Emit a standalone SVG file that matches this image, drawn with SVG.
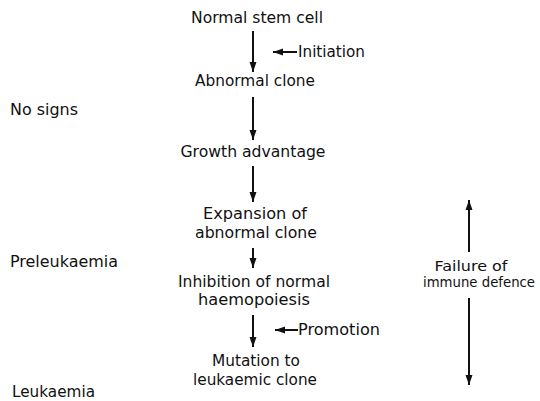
<svg xmlns="http://www.w3.org/2000/svg" width="540" height="401" viewBox="0 0 540 401">
<style>
text{font-family:"DejaVu Sans","Liberation Sans",sans-serif;font-size:15px;fill:#111;}
.c{text-anchor:middle;}
.s{font-size:14px;}
.ln{stroke:#111;stroke-width:2;fill:none;}
</style>
<defs>
<marker id="ah" viewBox="0 0 10 10" refX="10" refY="5" markerWidth="5" markerHeight="5" markerUnits="strokeWidth" orient="auto">
<path d="M0,1.5 L10,5 L0,8.5 z" fill="#111"/>
</marker>
</defs>
<rect width="540" height="401" fill="#fff"/>
<g id="connectors">
<line class="ln" x1="253" y1="31" x2="253" y2="72" marker-end="url(#ah)"/>
<line class="ln" x1="297" y1="52" x2="273" y2="52" marker-end="url(#ah)"/>
<line class="ln" x1="253" y1="97" x2="253" y2="140" marker-end="url(#ah)"/>
<line class="ln" x1="253" y1="166" x2="253" y2="202" marker-end="url(#ah)"/>
<line class="ln" x1="253" y1="248" x2="253" y2="268" marker-end="url(#ah)"/>
<line class="ln" x1="253" y1="315" x2="253" y2="347" marker-end="url(#ah)"/>
<line class="ln" x1="298" y1="330" x2="275" y2="330" marker-end="url(#ah)"/>
<line class="ln" x1="469" y1="252" x2="469" y2="200" marker-end="url(#ah)"/>
<line class="ln" x1="469" y1="298" x2="469" y2="385" marker-end="url(#ah)"/>
</g>
<g id="n1"><text class="c" x="257" y="23" textLength="132" lengthAdjust="spacingAndGlyphs">Normal stem cell</text></g>
<g id="initiation"><text x="298" y="57" textLength="67" lengthAdjust="spacingAndGlyphs">Initiation</text></g>
<g id="n2"><text class="c" x="255" y="86" textLength="120" lengthAdjust="spacingAndGlyphs">Abnormal clone</text></g>
<g id="n3"><text class="c" x="253" y="157" textLength="145" lengthAdjust="spacingAndGlyphs">Growth advantage</text></g>
<g id="n4"><text class="c" x="255" y="219" textLength="104" lengthAdjust="spacingAndGlyphs">Expansion of</text><text class="c" x="256" y="238" textLength="122" lengthAdjust="spacingAndGlyphs">abnormal clone</text></g>
<g id="n5"><text class="c" x="254" y="287" textLength="152" lengthAdjust="spacingAndGlyphs">Inhibition of normal</text><text class="c" x="254" y="305" textLength="112" lengthAdjust="spacingAndGlyphs">haemopoiesis</text></g>
<g id="promotion"><text x="298" y="335" textLength="82" lengthAdjust="spacingAndGlyphs">Promotion</text></g>
<g id="n6"><text class="c" x="256" y="366" textLength="88" lengthAdjust="spacingAndGlyphs">Mutation to</text><text class="c" x="255" y="385" textLength="124" lengthAdjust="spacingAndGlyphs">leukaemic clone</text></g>
<g id="stage1"><text x="10" y="115" textLength="68" lengthAdjust="spacingAndGlyphs">No signs</text></g>
<g id="stage2"><text x="10" y="267" textLength="108" lengthAdjust="spacingAndGlyphs">Preleukaemia</text></g>
<g id="stage3"><text x="12" y="397" textLength="83" lengthAdjust="spacingAndGlyphs">Leukaemia</text></g>
<g id="immune"><text class="c s" x="471" y="271" textLength="73" lengthAdjust="spacingAndGlyphs">Failure of</text><text class="c s" x="479" y="287" textLength="112" lengthAdjust="spacingAndGlyphs">immune defence</text></g>
</svg>
